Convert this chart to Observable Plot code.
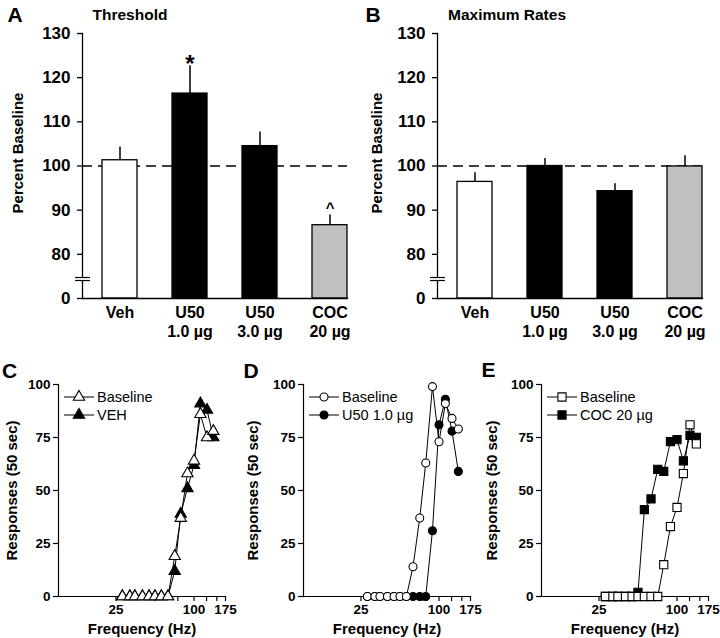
<!DOCTYPE html>
<html><head><meta charset="utf-8">
<script src="https://cdn.jsdelivr.net/npm/d3@7"></script>
<script src="https://cdn.jsdelivr.net/npm/@observablehq/plot@0.6"></script>
<style>
body{margin:0;background:#fff;}
#wrap{position:relative;width:720px;height:638px;background:#fff;}
#wrap > svg, #wrap > figure{position:absolute;margin:0;}
</style></head><body>
<div id="wrap"></div>
<script>
const FONT = "'Liberation Sans', Arial, Helvetica, sans-serif";

// ---- bar panels (A, B) ----
const categories = ["Veh", "U50\n1.0 µg", "U50\n3.0 µg", "COC\n20 µg"];
const barFills = ["white", "black", "black", "#c0c0c0"];
const thresholdMean = [101.3, 116.4, 104.5, 86.6];
const thresholdSem = [3.0, 6.3, 3.2, 2.3];
const thresholdMarks = ["", "*", "", "^"];
const maxRateMean = [96.4, 100.0, 94.3, 99.9];
const maxRateSem = [2.1, 1.7, 1.7, 2.4];
const maxRateMarks = ["", "", "", ""];
const barTicks = [70, 80, 90, 100, 110, 120, 130];
const barTickLabels = ["0", "80", "90", "100", "110", "120", "130"];
const baselineRef = 100;
const axisBreak = 74.3;

// ---- frequency-rate panels (C, D, E) ----
const frequencies = [28, 32, 35, 40, 45, 50, 56, 63, 71, 79, 89, 100, 112, 126, 141];
const cBaseline = [0,0,0,0,0,0,0,0,19,37,58,64,86,75,78];
const cVeh      = [0,0,0,0,0,0,0,0,12,39,51,62,91,88,75];
const dBaseline = [0,0,0,0,0,0,0,14,37,63,99,73,91,84,79];
const dU50      = [0,0,0,0,0,0,0,0,0,0,31,81,93,78,59];
const eBaseline = [0,0,0,0,0,0,0,0,0,15,33,42,58,81,72];
const eCoc      = [0,0,0,0,0,2,41,46,60,59,73,74,64,76,75];
const freqTicks = [25, 50, 75, 100, 125, 150, 175];
const freqTickLabels = [25, 100, 175];
const respTicks = [0, 25, 50, 75, 100];

const wrap = document.getElementById("wrap");

function place(node, left, top) {
  node.style.left = left + "px";
  node.style.top = top + "px";
  wrap.appendChild(node);
}

function barPanel(means, sems, marks, mLeft, mRight, labelDx) {
  const data = categories.map((c, i) => ({cat: c, mean: means[i], top: means[i] + sems[i], mark: marks[i], fill: barFills[i]}));
  const p = Plot.plot({
    width: 360, height: 345,
    marginLeft: mLeft, marginRight: mRight, marginTop: 33, marginBottom: 47,
    style: {fontFamily: FONT, background: "transparent", color: "black"},
    x: {type: "band", domain: categories, paddingInner: 0.5, paddingOuter: 0.1275, align: 1},
    y: {domain: [70, 130]},
    color: {type: "identity"},
    marks: [
      Plot.ruleY([baselineRef], {stroke: "black", strokeWidth: 1.3, strokeDasharray: "10,6"}),
      Plot.barY(data, {x: "cat", y1: 70, y2: "mean", fill: "fill", stroke: "black", strokeWidth: 1.3}),
      Plot.ruleX(data, {x: "cat", y1: "mean", y2: "top", stroke: "black", strokeWidth: 1.5}),
      Plot.text(data.filter(d => d.mark === "*"), {x: "cat", y: "top", text: "mark", lineAnchor: "bottom", dy: 6, fontSize: 24, fontWeight: "bold"}),
      Plot.text(data.filter(d => d.mark === "^"), {x: "cat", y: "top", text: "mark", lineAnchor: "bottom", dy: -2, fontSize: 15, fontWeight: "bold"}),
      Plot.frame({anchor: "left", stroke: "black", strokeWidth: 1.3}),
      Plot.frame({anchor: "bottom", stroke: "black", strokeWidth: 1.3}),
      Plot.axisY({ticks: barTicks, tickFormat: d => barTickLabels[barTicks.indexOf(d)], tickSize: 5, tickPadding: 7, fontSize: 17, fontWeight: "bold", strokeWidth: 1.3, label: null}),
      Plot.axisX({tickSize: 0, tickPadding: 6, fontSize: 16, fontWeight: "bold", lineHeight: 1.2, label: null}),
      Plot.text(["Percent Baseline"], {frameAnchor: "left", textAnchor: "middle", lineAnchor: "middle", dx: labelDx, dy: -13, rotate: -90, fontSize: 15, fontWeight: "bold"})
    ]
  });
  // axis break marks
  const yb = p.scale("y").apply(axisBreak);
  const g = d3.select(p).append("g");
  g.append("rect").attr("x", mLeft - 7).attr("y", yb - 1.5).attr("width", 15).attr("height", 3).attr("fill", "white");
  [-1.5, 1.5].forEach(o => g.append("line").attr("x1", mLeft - 7).attr("x2", mLeft + 8)
    .attr("y1", yb + o).attr("y2", yb + o).attr("stroke", "black").attr("stroke-width", 1.2));
  return p;
}

function curvePanel(base, other, symbol, otherLabel, mLeft, mRight, labelDx, width) {
  const b = frequencies.map((f, i) => ({f, v: base[i]}));
  const o = frequencies.map((f, i) => ({f, v: other[i]}));
  const r = symbol === "square" ? 4.6 : symbol === "circle" ? 4.0 : 4.2;
  const p = Plot.plot({
    width, height: 268,
    marginLeft: mLeft, marginRight: mRight, marginTop: 14, marginBottom: 42,
    style: {fontFamily: FONT, background: "transparent", color: "black"},
    x: {type: "log", domain: [9, 175]},
    y: {domain: [0, 100]},
    marks: [
      Plot.frame({anchor: "left", stroke: "black", strokeWidth: 1.2}),
      Plot.frame({anchor: "bottom", stroke: "black", strokeWidth: 1.2}),
      Plot.axisY({ticks: respTicks, tickSize: 5, tickPadding: 3, fontSize: 13.5, fontWeight: "bold", strokeWidth: 1.2, label: null}),
      Plot.axisX({ticks: freqTicks, tickFormat: d => freqTickLabels.includes(d) ? String(d) : "", tickSize: 5, tickPadding: 3, fontSize: 13.5, fontWeight: "bold", strokeWidth: 1.2, label: null}),
      Plot.line(o, {x: "f", y: "v", stroke: "black", strokeWidth: 1}),
      Plot.dot(o, {x: "f", y: "v", symbol, r, fill: "black", stroke: "black", strokeWidth: 1.1}),
      Plot.line(b, {x: "f", y: "v", stroke: "black", strokeWidth: 1}),
      Plot.dot(b, {x: "f", y: "v", symbol, r, fill: "white", stroke: "black", strokeWidth: 1.1}),
      Plot.text(["Responses (50 sec)"], {frameAnchor: "left", textAnchor: "middle", lineAnchor: "middle", dx: labelDx, rotate: -90, fontSize: 15, fontWeight: "bold"}),
      Plot.text(["Frequency (Hz)"], {frameAnchor: "bottom", textAnchor: "middle", lineAnchor: "middle", dy: 33, fontSize: 15, fontWeight: "bold"})
    ]
  });
  // legend
  const sym = {triangle: d3.symbolTriangle, circle: d3.symbolCircle, square: d3.symbolSquare}[symbol];
  const path = d3.symbol(sym, r * r * Math.PI)();
  const g = d3.select(p).append("g");
  [["Baseline", "white", 27], [otherLabel, "black", 45]].forEach(([label, fill, y]) => {
    g.append("line").attr("x1", mLeft + 6).attr("x2", mLeft + 36).attr("y1", y).attr("y2", y)
      .attr("stroke", "black").attr("stroke-width", 1);
    g.append("path").attr("d", path).attr("transform", `translate(${mLeft + 21},${y})`)
      .attr("fill", fill).attr("stroke", "black").attr("stroke-width", 1.1);
    g.append("text").attr("x", mLeft + 39).attr("y", y).attr("dy", "0.36em")
      .attr("text-anchor", "start").attr("font-weight", "normal")
      .attr("font-size", 14.5).attr("font-family", FONT).attr("fill", "black").text(label);
  });
  return p;
}

place(barPanel(thresholdMean, thresholdSem, thresholdMarks, 82, 13, -64), 0, 0);
place(barPanel(maxRateMean, maxRateSem, maxRateMarks, 77, 18, -60), 360, 0);
place(curvePanel(cBaseline, cVeh, "triangle", "VEH", 58, 15, -46, 240), 0, 370);
place(curvePanel(dBaseline, dU50, "circle", "U50 1.0 µg", 63, 20, -50, 250), 240, 370);
place(curvePanel(eBaseline, eCoc, "square", "COC 20 µg", 61, 12, -49, 240), 480, 370);

// panel letters and titles
const ov = d3.select(wrap).append("svg").attr("width", 720).attr("height", 638)
  .style("position", "absolute").style("left", "0px").style("top", "0px").style("pointer-events", "none")
  .attr("font-family", FONT).attr("font-weight", "bold").attr("text-anchor", "start");
[["A", 7.5, 22], ["B", 365.5, 22], ["C", 2, 378], ["D", 243.5, 378], ["E", 481.5, 377]].forEach(([t, x, y]) =>
  ov.append("text").attr("x", x).attr("y", y).attr("font-size", 21).text(t));
[["Threshold", 92.5, 20], ["Maximum Rates", 448, 20]].forEach(([t, x, y]) =>
  ov.append("text").attr("x", x).attr("y", y).attr("font-size", 15.5).text(t));
</script>
</body></html>
